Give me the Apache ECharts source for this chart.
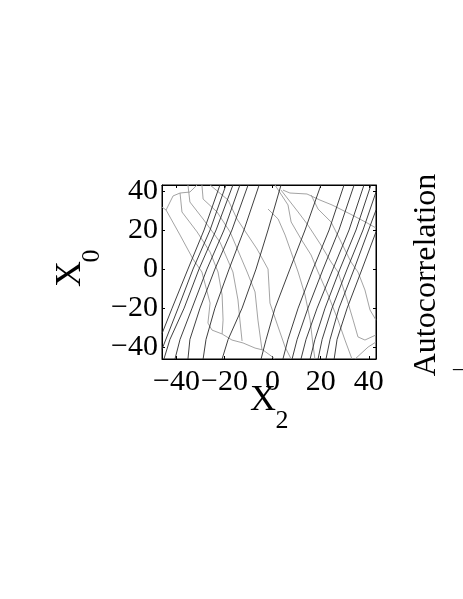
<!DOCTYPE html>
<html>
<head>
<meta charset="utf-8">
<script src="https://cdn.jsdelivr.net/npm/echarts@6/dist/echarts.min.js"></script>
<style>html,body{margin:0;padding:0;background:#fff;}#c{width:463px;height:599px;}</style>
</head>
<body>
<div id="c"></div>
<script>
// axis ranges and ticks
const xRange = [-46, 43];
const yRange = [-46, 43];
const xTicks = [-40, -20, 0, 20, 40];
const yTicks = [-40, -20, 0, 20, 40];
const xName = 'X';
const xSub = '2';
const yName = 'X';
const ySub = '0';
const sideTitle = 'Autocorrelation';

// dark contour family (x, y)
const dark1 = [[-21.9,43],[-28.5,20],[-35.2,0],[-41.8,-20],[-46,-33]];
const dark2 = [[-19.4,43],[-26,20],[-33.1,0],[-39.3,-20],[-46,-41]];
const dark3 = [[-16.5,43],[-23.5,20],[-30.6,0],[-36.8,-20],[-42.7,-36],[-45.2,-46]];
const dark4 = [[-13.6,43],[-20.2,20],[-27.3,0],[-33.5,-20],[-38.5,-36],[-40.6,-46]];
const dark5 = [[-10.2,43],[-16.9,20],[-24,0],[-30.2,-20],[-34.4,-36],[-35.2,-46]];
const dark6 = [[-5.6,43],[-11.9,20],[-18.1,0],[-24,-20],[-27.7,-36],[-28.9,-46]];
const dark7 = [[3.5,43],[-1.9,20],[-6.9,0],[-12.7,-20],[-18.5,-36],[-21,-46]];
const dark8 = [[20.1,43],[13.5,20],[7.2,0],[1,-20],[-2.7,-36],[-4.8,-46]];
const dark9 = [[29.7,43],[23.5,20],[16.8,0],[10.6,-20],[6.4,-36],[4.3,-46]];
const dark10 = [[33.9,43],[27.6,20],[21,0],[14.7,-20],[10.2,-36],[8.1,-46]];
const dark11 = [[38,43],[31.8,20],[25.1,0],[18.5,-20],[13.9,-36],[11.8,-46]];
const dark12 = [[40.9,43],[34.7,20],[28,0],[21.8,-20],[17.6,-36],[15.6,-46]];
const dark13 = [[43,39.4],[37.6,20],[31,0],[24.7,-20],[20.6,-36],[18.9,-46]];
const dark14 = [[43,30.2],[33.9,0],[27.6,-20],[23.9,-36],[22.2,-46]];
const dark15 = [[43,19],[37.2,0],[31,-20],[26.8,-36],[25.6,-46]];

// grey contour family (x, y)
const grey1 = [[-46,31.7],[-44.3,30.2],[-41.4,37.4],[-38.5,38.9],[-34.4,39.4],[-31.4,43]];
const grey2 = [[-44.3,30.2],[-38.5,17.4],[-33.1,5.1],[-29.4,-1.5],[-26,-17.4],[-26.9,-27.6],[-25.2,-31.2]];
const grey3 = [[-25.2,-31.2],[-21,-33.2],[-16.9,-36.3],[-12.3,-37.8],[-7.3,-40.4],[-4,-41.4],[-1.1,-44],[1,-46]];
const grey4 = [[-38.5,38.9],[-37.7,29.2],[-31.4,19],[-26,8.7],[-22.7,-1.5],[-21,-13.3],[-20.6,-26.1],[-21,-33.2]];
const grey5 = [[-35.2,43],[-34.4,34.3],[-28.9,25.6],[-21.9,13.8],[-16.5,-1.5],[-14.4,-15.8],[-13.6,-26.1],[-12.7,-36.8]];
const grey6 = [[-29.4,43],[-28.9,35.8],[-23.1,29.2],[-17.7,19],[-10.6,-1.5],[-7.3,-11.7],[-6.1,-26.1],[-4.4,-41.4]];
const grey7 = [[-26,43],[-18.5,35.3],[-14.8,25.6],[-6.5,10.3],[-1.9,0],[-1.1,-17.4],[2.3,-29.6],[5.2,-39.9],[7.7,-46]];
const grey8 = [[1,43],[6.4,32.8],[7.7,24.1],[11.8,15.4],[16,7.2],[18.9,-1.5],[23.1,-13.3],[27.2,-26.1],[30.1,-36.3],[33,-46]];
const grey9 = [[3.5,40.4],[10.6,29.2],[14.7,22.5],[20.1,12.3],[24.3,3.6],[27.2,-1.5],[31,-15.8],[33.5,-26.1],[35.5,-34.7],[38.4,-36.3],[43,-33.7]];
const grey10 = [[16,37.9],[18.9,30.7],[24.3,24.1],[28.5,13.8],[32.6,3.6],[35.5,-1.5],[38.4,-10.7],[40.5,-20.9],[43,-26.1]];
const grey11 = [[4.3,40.4],[7.2,38.9],[14.3,38.4],[19.7,35.3],[24.7,32.8],[32.2,28.2],[39.3,23.6],[43,21]];
const grey12 = [[-1.9,30.7],[2.3,25.6],[5.2,17.4],[7.7,8.7],[10.6,-1.5],[13.5,-13.3],[15.6,-26.1],[16.8,-38.8],[17.6,-46]];
const grey13 = [[34.3,-46],[39.7,-39.9],[43,-37.3]];

const darkLines = [dark1,dark2,dark3,dark4,dark5,dark6,dark7,dark8,dark9,dark10,dark11,dark12,dark13,dark14,dark15];
const greyLines = [grey1,grey2,grey3,grey4,grey5,grey6,grey7,grey8,grey9,grey10,grey11,grey12,grey13];

const FONT = 'Liberation Serif';
const chart = echarts.init(document.getElementById('c'), null, {renderer: 'canvas'});

function mkSeries(arr, color, name, z) {
  return arr.map((d, i) => ({
    type: 'line', name: name + i, data: d, showSymbol: false, symbol: 'none',
    lineStyle: {color: color, width: 0.9}, silent: true, animation: false, z: z
  }));
}

const tickStyle = {show: true, inside: true, length: 3, lineStyle: {color: '#000', width: 1}};
const minusFmt = v => (v < 0 ? '\u2212' + Math.abs(v) : String(v));

chart.setOption({
  animation: false,
  backgroundColor: '#fff',
  grid: {left: 162, top: 185, width: 214, height: 174, show: true, borderColor: '#000', borderWidth: 1, containLabel: false},
  xAxis: [
    {type: 'value', min: xRange[0], max: xRange[1], position: 'bottom',
     axisLine: {show: true, onZero: false, lineStyle: {color: '#000'}},
     axisTick: Object.assign({customValues: xTicks}, tickStyle),
     axisLabel: {customValues: xTicks, margin: 8, fontFamily: FONT, fontSize: 30, color: '#000', formatter: minusFmt},
     splitLine: {show: false}},
    {type: 'value', min: xRange[0], max: xRange[1], position: 'top',
     axisLine: {show: true, onZero: false, lineStyle: {color: '#000'}},
     axisTick: Object.assign({customValues: xTicks}, tickStyle),
     axisLabel: {show: false}, splitLine: {show: false}}
  ],
  yAxis: [
    {type: 'value', min: yRange[0], max: yRange[1], position: 'left',
     axisLine: {show: true, onZero: false, lineStyle: {color: '#000'}},
     axisTick: Object.assign({customValues: yTicks}, tickStyle),
     axisLabel: {customValues: yTicks, margin: 4, fontFamily: FONT, fontSize: 30, color: '#000', formatter: minusFmt},
     splitLine: {show: false}},
    {type: 'value', min: yRange[0], max: yRange[1], position: 'right',
     axisLine: {show: true, onZero: false, lineStyle: {color: '#000'}},
     axisTick: Object.assign({customValues: yTicks}, tickStyle),
     axisLabel: {show: false}, splitLine: {show: false}}
  ],
  graphic: [
    {type: 'text', x: 263, y: 401, style: {text: xName, fontFamily: FONT, fontSize: 36, fill: '#000', align: 'center', verticalAlign: 'middle'}},
    {type: 'text', x: 282, y: 421, style: {text: xSub, fontFamily: FONT, fontSize: 26, fill: '#000', align: 'center', verticalAlign: 'middle'}},
    {type: 'text', x: 71, y: 274, rotation: Math.PI / 2, style: {text: yName, fontFamily: FONT, fontSize: 36, fill: '#000', align: 'center', verticalAlign: 'middle'}},
    {type: 'text', x: 92, y: 256, rotation: Math.PI / 2, style: {text: ySub, fontFamily: FONT, fontSize: 26, fill: '#000', align: 'center', verticalAlign: 'middle'}},
    {type: 'text', x: 427, y: 275, rotation: Math.PI / 2, style: {text: sideTitle, fontFamily: FONT, fontSize: 32, fill: '#000', align: 'center', verticalAlign: 'middle'}},
    {type: 'text', x: 458, y: 371, style: {text: '\u2212', fontFamily: FONT, fontSize: 22, fill: '#000', align: 'center', verticalAlign: 'middle'}}
  ],
  series: mkSeries(greyLines, '#999', 'g', 2).concat(mkSeries(darkLines, '#2a2a2a', 'd', 3))
});
</script>
</body>
</html>
